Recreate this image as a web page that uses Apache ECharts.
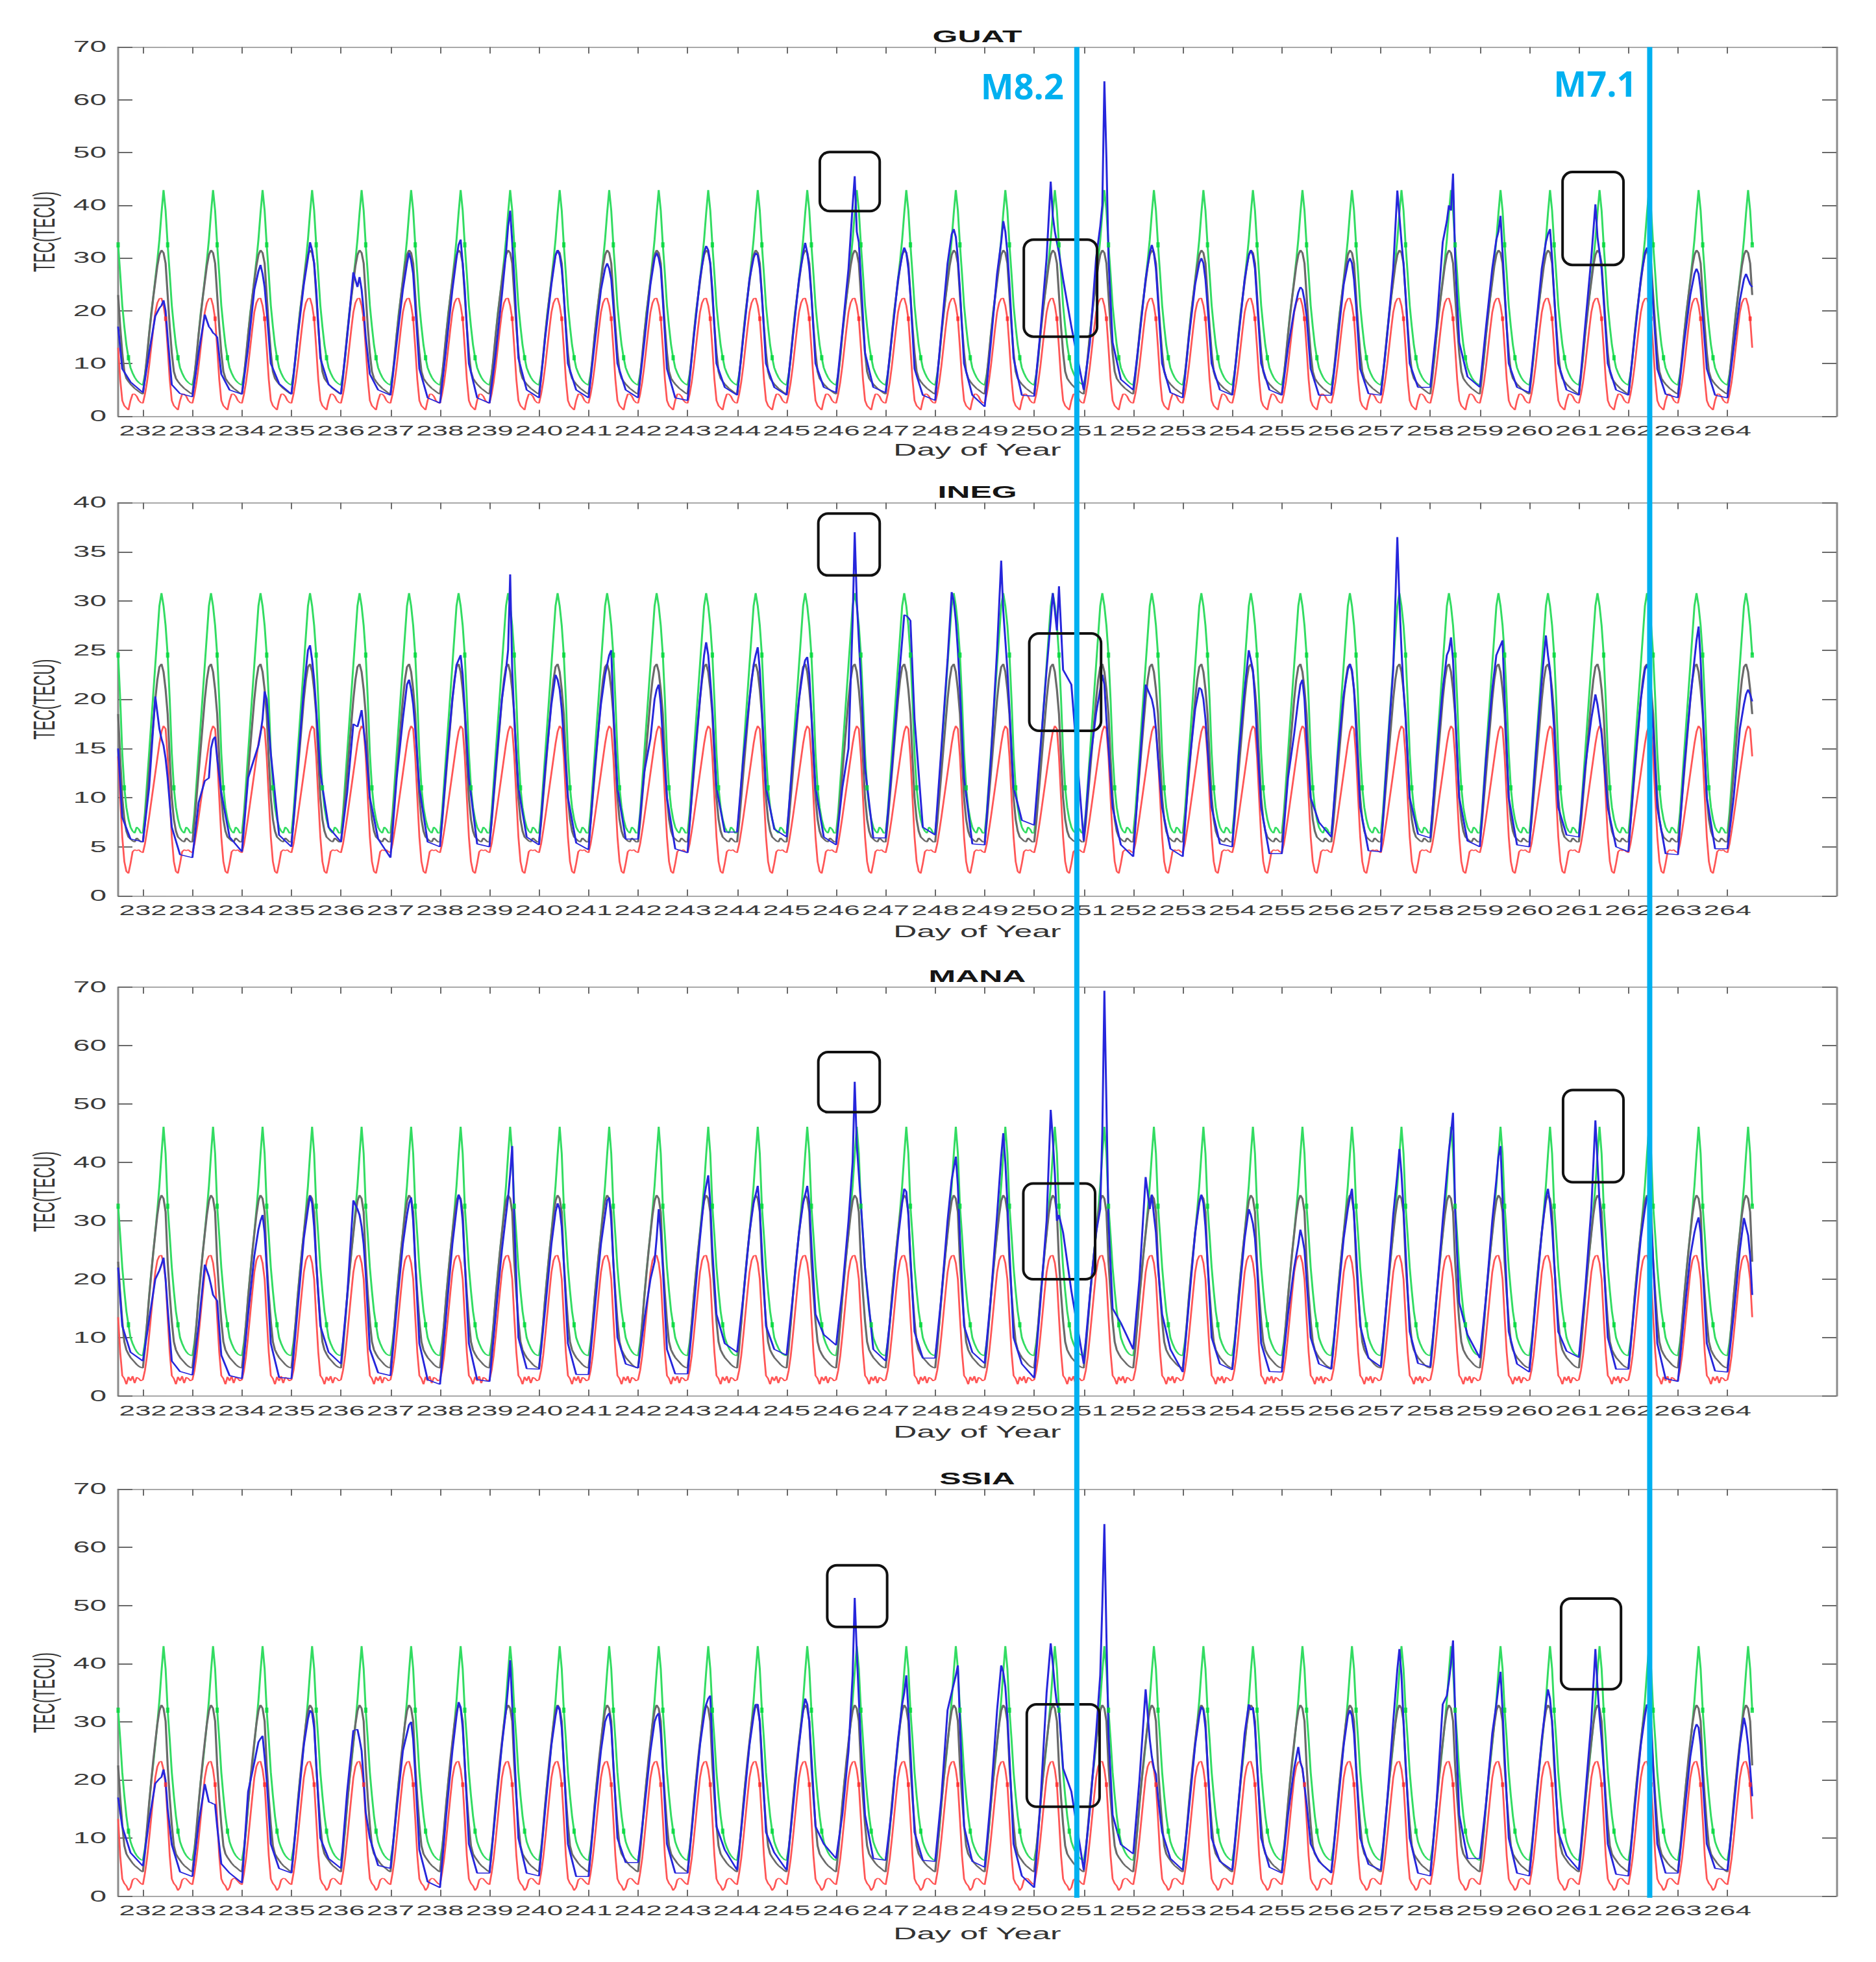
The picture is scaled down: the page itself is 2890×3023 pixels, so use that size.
<!DOCTYPE html>
<html>
<head>
<meta charset="utf-8">
<script src="https://cdn.jsdelivr.net/npm/echarts@6/dist/echarts.min.js"></script>
<style>
html,body{margin:0;padding:0;background:#fff;width:2890px;height:3023px;overflow:hidden}
#main{position:absolute;left:0;top:0;width:1445px;height:3023px;transform:scaleX(2);transform-origin:0 0}
#overlay{position:absolute;left:0;top:0;width:2890px;height:3023px}
</style>
</head>
<body>
<div id="main"></div>
<div id="overlay"></div>
<script>
// ---------------- DATA ----------------
const stations = ['GUAT', 'INEG', 'MANA', 'SSIA'];
const days = [231,232,233,234,235,236,237,238,239,240,241,242,243,244,245,246,247,248,249,250,251,252,253,254,255,256,257,258,259,260,261,262,263,264];
const dayTicks = [232,233,234,235,236,237,238,239,240,241,242,243,244,245,246,247,248,249,250,251,252,253,254,255,256,257,258,259,260,261,262,263,264];
const tStart = 231.5, tEnd = 264.5;
const yMaxes = [70, 40, 70, 70];
const yIntervals = [10, 5, 10, 10];

// hourly daily profiles (24 values, one per hour of the day) of upper bound, median and lower bound
const guatUpper  = [5.9,8.0,11.0,15.5,19.5,22.5,26.0,29.5,33.5,38.5,42.9,39.0,32.5,27.0,21.0,17.0,13.5,11.1,9.2,8.2,7.4,6.8,6.4,6.1];
const guatMedian = [4.2,7.5,11.5,15.5,19.0,22.5,25.5,28.5,30.6,31.5,31.0,29.0,23.0,17.0,12.0,8.5,7.2,6.6,6.1,5.7,5.3,5.0,4.7,4.4];
const guatLower  = [2.5,4.2,6.5,9.5,13.0,16.5,19.7,21.5,22.3,22.4,21.0,18.5,13.0,7.0,3.0,2.0,1.6,1.2,3.0,4.2,4.2,3.8,3.0,2.6];

const inegUpper  = [6.4,8.5,11.5,14.5,17.5,20.5,23.5,26.5,29.5,30.8,29.5,27.5,24.5,20.0,14.5,11.0,9.0,7.8,7.0,6.6,6.4,7.0,6.8,6.4];
const inegMedian = [5.5,7.5,10.0,12.5,15.0,17.5,20.0,22.0,23.3,23.6,22.8,21.0,18.5,14.0,10.0,7.8,6.6,6.0,5.8,5.6,5.5,5.9,5.7,5.5];
const inegLower  = [4.4,5.3,6.6,8.0,9.5,11.0,12.5,14.0,15.5,16.7,17.3,17.0,14.2,10.0,6.0,3.5,2.5,2.3,3.3,4.5,4.7,4.6,4.7,4.5];

const manaUpper  = [6.9,9.2,12.5,17.0,21.0,24.5,28.0,31.8,36.0,41.3,46.1,41.5,32.5,27.5,22.0,18.0,14.5,12.2,10.0,9.0,8.2,7.6,7.2,7.0];
const manaMedian = [4.8,8.2,12.5,16.9,20.7,24.5,27.8,31.0,33.4,34.4,33.8,31.5,23.0,17.5,12.8,9.3,7.9,7.2,6.6,6.2,5.8,5.4,5.1,4.9];
const manaLower  = [2.8,4.4,6.9,10.3,14.0,17.7,21.2,23.2,24.0,24.1,22.8,20.0,13.5,7.5,3.5,3.0,2.0,3.3,2.6,3.4,2.2,3.2,3.0,2.6];

const ssiaUpper  = [6.2,8.3,11.3,15.7,19.7,22.7,26.2,29.7,33.7,38.6,43.0,39.1,32.0,27.0,21.3,17.3,13.8,11.2,9.4,8.4,7.6,7.0,6.6,6.3];
const ssiaMedian = [4.2,7.6,11.8,15.9,19.6,23.3,26.5,29.6,31.9,32.9,32.3,30.1,22.5,17.0,12.3,8.7,7.3,6.7,6.2,5.7,5.3,5.0,4.7,4.4];
const ssiaLower  = [2.0,4.0,6.5,9.8,13.4,17.0,20.4,22.3,23.1,23.2,21.8,19.2,13.3,7.0,3.0,2.2,1.8,1.0,1.5,2.8,3.1,3.0,2.6,2.2];

// observed TEC: one row per day, values at these fractions of the day
const obsFrac = [0, 0.125, 0.25, 0.333, 0.375, 0.417, 0.458, 0.5, 0.583, 0.75];

const guatObs = [
[4,15,25,30,31,30,27,17,9,6.5],
[4.5,12,19,20.5,21,22,20,15,6,4.3],
[3.7,12,19.3,17,16.5,15.8,15.5,15,8,5.0],
[4.2,13,24,27.5,28.7,27,24.5,20,10,6.2],
[4.2,15,25,30,33,31.5,29,24,11,6.0],
[4.2,15,27.3,24.5,26.4,24,20,15,8,5.0],
[4.0,14,24,29,31,29.5,27,21,9,3.5],
[2.5,13,24,30,32.5,33.5,29,24,10,3.5],
[2.5,12,23,31,36,39,33,26,11,5.0],
[3.5,15,25,30.5,31.5,30.5,28,23,10,5.0],
[3.5,14,24,28,29,28,26,21,10,5.0],
[3.5,14,25,30,31,30,28,22,9,3.5],
[3.0,15,26,31,32.3,31.5,29,24,10,5.5],
[4.0,15,26,30,31,30.5,28,23,10,5.5],
[4.0,15,26,31,32.9,31,28,23,10,5.5],
[4.5,16,28,40,45.5,35,33,26,12,5.5],
[4.5,15,26,30.5,32,31,28,23,9,4.0],
[3.0,16,29,34.5,35.5,34,30,24,10,4.0],
[1.8,14,27,33,37,35,31,25,11,4.0],
[3.8,16,30,44.5,38,35,33,31,26,17],
[5,14,30,36,40,63.5,49,30,14,7],
[5,15,26,31,32.5,31,28,22,10,4.5],
[3.5,15,25,29,30,29,26,21,10,5.0],
[4,15,26,30.5,31.5,30.5,28,22,10,5.0],
[4,13,20,23.5,24.5,24,22,19,9,4.0],
[4.0,14,25,29,30,29,26,21,9,4.3],
[4.0,15,28,42.8,38,33,29,23,10,5.5],
[5.5,17,33,37,40,39,46,30,14,7.5],
[5.5,17,28,33.5,35,38,31,24,10,5.5],
[4.5,16,28,33,34.5,35.5,30,23,10,5.0],
[4.0,17,30,40.2,34,31,28,22,10,5.0],
[4.0,15,26,31,32,30,27,21,9,4.2],
[3.5,14,23,27,28,27,24,19,9,4.0],
[3.5,13,22,26,27,26,25,24.5,null,null]
];

const inegObs = [
[5,12,18,22,23,22,19,15,8,5.8],
[5.5,11,20.3,17,16,15.3,14,12,7,4.2],
[3.9,9.5,11.7,12,15,15.9,16.2,14,10.5,6],
[4.5,12,14,15.3,16.5,18,20.8,20,14.5,6.2],
[5.0,13,21,25,25.5,24,22,19,12.5,7],
[5.5,10.5,17.5,17.2,18,18.9,17,15.2,10,5.8],
[3.9,12,18,21.5,22,21,19.5,17,11,5.5],
[5.0,13,20,23.5,24,24.5,22.5,19,12,5.3],
[5.0,13,20,23,25,32.7,23,18,11,6.0],
[5.2,13,19.5,22.5,22,21,19,16,10,5.4],
[4.7,13,19.5,22.5,23.5,24.5,25,19,11,5.8],
[5.8,12.6,16,20,21,21.5,19.5,16,10,4.8],
[4.4,13,20,24.5,25.8,24.5,22,19,11,6.5],
[6.5,14,20,23.5,24.5,25.3,23,19,11,6.8],
[6.0,14,20,23,24,24.3,22.5,18.5,11,6.0],
[5.2,11,15,28,37,30,26,22,13,5.9],
[5.9,13,21,26,28.6,28.5,28.3,28,18,7.0],
[6.2,15,24,30.9,30,28,25,21,12,5.3],
[5.2,14,25,34.1,29,26,23,19,11,7.7],
[7.2,15,23,28,30.8,29,27,31.5,23,21.5],
[5.6,13.5,18.6,21,22.5,21.5,18,15,9,5.2],
[4.0,13,21.5,20.5,20,19,17,14,9,4.8],
[4.0,13,19,21.2,21,20,18,15,9,5.3],
[5.0,14,21,25,24,23,20,16,9,4.3],
[4.3,12,16.5,20,21.5,22,20,16,10,7.5],
[6.0,14,20.5,23,23.6,23,21,17,9,4.6],
[4.5,14,23,36.5,30,25,21,18,10,6.3],
[5.9,14,21,24.5,25,26.3,24,19,10,5.6],
[5.0,14,21,24.5,25,25.5,26,20,10,5.2],
[5.0,14,22,26.5,24.5,23,20,17,9,6.2],
[6.0,13,18,20.5,19.5,18,16.5,14,9,5.0],
[4.5,13,20,23,23.5,23,20,17,9,4.3],
[4.2,13,20,24,26,27.4,24,19,10,4.8],
[4.8,10,17,19.5,20.5,21,20.5,19.8,null,null]
];

const manaObs = [
[5,15,25,30,32,31,28,22,12,7.5],
[6.0,13,20,21.5,22.5,23.7,20,15,6,4.2],
[3.6,12,22.5,20.5,19,17.3,16.8,16.3,7,3.5],
[3.0,14,24,28.5,30,31,28,22,9,3.2],
[3.0,15,27,32,34.3,33,29,23,12,7.5],
[5.5,17,33.5,32,31,29,26,21,8,4.0],
[3.5,15,26,31,33,34,30,23,9,2.8],
[2.0,14,26,32,34.5,33.5,30,23,9,2.8],
[2.5,14,25,31,34,38,42.8,30,10,4.7],
[4.6,15,26,31.5,33,32,29,23,9,3.7],
[3.7,15,26,31,33.5,34,30,23,10,5.5],
[4.8,13,20,23,27,32,28,22,8,3.8],
[3.8,15,27,34,36,37.8,33,25,14,9],
[7.5,17,28,33,34.5,36,32,25,12,8],
[7,17,28,33,34.5,36,33,26,14,10.5],
[8.7,18,30,40,53.8,43,38,33,22,8],
[6.0,16,27,33,35.5,35,31,24,11,6.5],
[6.5,17,30,37,39,41,36,27,12,7.5],
[5.6,17,31,41,45,40,33,25,10,5.5],
[3.1,16,30,49,44,38,30,31,28,18],
[5.5,17.3,28,32,45,69.4,50,30,15,12.5],
[8,20,37.5,32,34.5,31,28,22,14,8],
[4.1,16,28,33,34.5,33,29,23,10,5.5],
[4.5,16,27,32,31,29.5,27,22,9,4.2],
[4.1,14,22,26,28.5,27,25,20,10,5.5],
[4.6,16,27,32,34,35.5,31,25,12,6.5],
[5.0,17,31,38,42.3,38,32,25,11,5.6],
[5.0,17,30,38,42,45,48.5,32,16,10.5],
[6.5,17,30,37,41,42.8,34,26,11,5.5],
[4.1,16,28,34,35.5,33,29,23,11,7.7],
[6.6,18,32,47.2,40,33,28,23,10,4.6],
[4.6,16,27,32,34,34.5,30,23,9,3.0],
[2.5,14,24,28,29.5,30.6,28,22,9,4.3],
[4.1,14,25,30.5,29,27.5,24,17.3,null,null]
];

const ssiaObs = [
[5,15,25,30,32,31,28,17,12,7.5],
[5.2,13,19.4,20.2,20.5,21.8,19.9,15,8.9,4.2],
[3.4,12.5,19.3,16.2,16.1,15.9,15.8,12,5.6,4.0],
[2.3,18,23,26.5,27.1,27.6,24,20,9,4.8],
[4,15,26,30.5,32,31.5,29,23,10,6.5],
[4.8,18,28.5,28.7,27,25,20,14.4,10,5.3],
[4.8,15,25,28,29.5,30,27,21,8,2.5],
[1.5,14,25,31,33.4,32.5,29,23,9,4.0],
[4,15,26,32,36,40.6,33,25,10,4.0],
[3.5,15,26,31,32.8,32,29,23,9,3.4],
[3.4,15,25,30,31,31.5,29,23,10,5.8],
[5.8,15,25,30,31,31.5,28,22,9,4.0],
[4.0,15,26,31,33,34,34.5,26,12,8],
[4.5,15,26,31,33,33,30,24,11,7.5],
[4.5,15,26,32,34,33,30,24,12,9],
[6.5,14,25,38,51.3,42,34,26,14,6.5],
[6.2,15,27,33,35,38,32,25,11,6.2],
[6,17,32,35,36.5,38,39.7,30,12,6],
[5,17,32,39.7,38.5,36,31,24,9,3.5],
[1.5,16,35,43.5,40,36,33,32,22,18],
[4.5,15,28,38,50,64,45,28,14,8.9],
[7.3,20,35.6,27,24,22,21,17,11,6.5],
[4.5,15,26,31,32.6,32,29,23,10,6],
[4.5,16,28,33,32,32.5,29,23,10,5.0],
[4,14,22,25.7,23,22,19,16,9,6],
[4.0,15,26,31,32,31,28,22,10,5.5],
[4.5,16,30,39,42.5,38,30,23,10,4.0],
[3.5,16,33,34.5,37,40,44,32,14,6.5],
[6.5,16,28,33,36,38.6,32,24,10,4.0],
[3.5,15,27,33,35.6,34,30,24,11,7.0],
[4.5,17,30,42.5,36,31,27,22,9,3.8],
[3.5,15,26,31,33,32,29,22,9,4.0],
[4.0,14,24,28.5,29.6,29,26,20,9,4.8],
[4.5,15,26,30.7,29,26,22,17.2,null,null]
];

// hours of the day where the bound curves show thick dot markers
const upperDotHours = [[12,17],[12,15],[12,17],[12,17]];
const lowerDotHours = [[11],[],[],[11]];

// annotations: boxes [dayFrom, tecTop, dayTo, tecBottom]
const guatBoxes = [[245.67,50.1,246.88,38.9],[249.79,33.5,251.27,15.1],[260.67,46.3,261.90,28.7]];
const inegBoxes = [[245.64,38.9,246.88,32.6],[249.90,26.7,251.35,16.8]];
const manaBoxes = [[245.64,58.9,246.88,48.6],[249.78,36.4,251.23,20.0],[260.68,52.4,261.90,36.6]];
const ssiaBoxes = [[245.82,56.9,247.03,46.3],[249.85,33.0,251.32,15.4],[260.64,51.2,261.85,35.6]];
// earthquakes: day of year and label anchor (TEC value in GUAT panel)
const quakeNames = ['M8.2', 'M7.1'];
const quakeDays = [250.86, 262.43];
const quakeLabelTec = [62.7, 63.2];

// ---------------- LAYOUT / STYLE ----------------
const FONT = "'Liberation Sans', Arial, Helvetica, sans-serif";
const PANEL_TOP = [72.5, 774.5, 1521, 2294.4];
const PANEL_H = [568.9, 606, 630, 627.4];
const PLOT_L = 182, PLOT_R = 2829, STRETCH = 2;
const NAME_GAP_X = [39, 42.5, 42.5, 45];
const XMIN = 231.5, XMAX = 266.2;
const C_UP = '#33dc62', C_MED = '#6a6a6a', C_LOW = '#ff5656', C_OBS = '#2626dc';

const uppers = [guatUpper, inegUpper, manaUpper, ssiaUpper];
const medians = [guatMedian, inegMedian, manaMedian, ssiaMedian];
const lowers = [guatLower, inegLower, manaLower, ssiaLower];
const observed = [guatObs, inegObs, manaObs, ssiaObs];
const boxes = [guatBoxes, inegBoxes, manaBoxes, ssiaBoxes];

function inRange(t) { return t >= tStart - 1e-9 && t <= tEnd + 1e-9; }
function tile(profile) {
  const out = [];
  days.forEach(d => profile.forEach((v, k) => {
    const t = d + k / profile.length;
    if (inRange(t)) out.push([t, v]);
  }));
  return out;
}
function dots(profile, hours) {
  const out = [];
  days.forEach(d => hours.forEach(k => {
    const t = d + k / profile.length;
    if (inRange(t)) out.push([t, profile[k]]);
  }));
  return out;
}
function obsSeries(rows) {
  const out = [];
  rows.forEach((row, di) => row.forEach((v, i) => {
    if (v == null) return;
    const t = days[di] + obsFrac[i];
    if (inRange(t)) out.push([t, v]);
  }));
  return out;
}

// ---------------- MAIN CHART (drawn at half width, stretched x2 like the source figure) ----------------
const grids = [], xAxes = [], yAxes = [], series = [], titles = [];
stations.forEach((s, i) => {
  grids.push({ left: PLOT_L / STRETCH, width: (PLOT_R - PLOT_L) / STRETCH, top: PANEL_TOP[i], height: PANEL_H[i], containLabel: false, outerBoundsMode: 'none' });
  ['bottom', 'top'].forEach(pos => {
    xAxes.push({
      type: 'value', gridIndex: i, position: pos, min: XMIN, max: XMAX,
      axisLine: { show: true, onZero: false, lineStyle: { color: '#8c8c8c', width: 1.5 } },
      axisTick: { show: true, inside: true, length: 10, customValues: dayTicks, lineStyle: { color: '#6a6a6a', width: 1 } },
      axisLabel: pos === 'bottom'
        ? { show: true, customValues: dayTicks, fontSize: 22, color: '#3a3a3a', margin: 11, fontFamily: FONT,
            hideOverlap: false, showMinLabel: true, showMaxLabel: true }
        : { show: false },
      splitLine: { show: false },
      name: pos === 'bottom' ? 'Day of Year' : '',
      nameLocation: 'middle', nameGap: NAME_GAP_X[i],
      nameTextStyle: { fontSize: 25, color: '#333', fontFamily: FONT }
    });
  });
  ['left', 'right'].forEach(pos => {
    yAxes.push({
      type: 'value', gridIndex: i, position: pos, min: 0, max: yMaxes[i], interval: yIntervals[i],
      axisLine: { show: true, onZero: false, lineStyle: { color: '#8c8c8c', width: 1.5 } },
      axisTick: { show: true, inside: true, length: 11, lineStyle: { color: '#6a6a6a', width: 2 } },
      axisLabel: pos === 'left' ? { show: true, fontSize: 23, color: '#3a3a3a', margin: 9, fontFamily: FONT, showMinLabel: true, showMaxLabel: true } : { show: false },
      splitLine: { show: false },
      name: pos === 'left' ? 'TEC(TECU)' : '',
      nameLocation: 'middle', nameRotate: 90, nameGap: 42,
      nameTextStyle: { fontSize: 23, color: '#333', fontFamily: FONT }
    });
  });
  titles.push({
    text: s, left: (PLOT_L + PLOT_R) / 2 / STRETCH, top: PANEL_TOP[i] - 29,
    textAlign: 'center', textVerticalAlign: 'top', padding: 0,
    textStyle: { fontSize: 25, fontWeight: 'bold', color: '#151515', fontFamily: FONT }
  });
  const ax = { xAxisIndex: 2 * i, yAxisIndex: 2 * i };
  const lineBase = { type: 'line', showSymbol: false, symbol: 'none', silent: true, animation: false };
  series.push(Object.assign({}, lineBase, ax, { name: s + ' upper', data: tile(uppers[i]), lineStyle: { color: C_UP, width: 1.5 }, z: 2 }));
  series.push(Object.assign({}, lineBase, ax, { name: s + ' lower', data: tile(lowers[i]), lineStyle: { color: C_LOW, width: 1.4 }, z: 2 }));
  series.push(Object.assign({}, lineBase, ax, { name: s + ' median', data: tile(medians[i]), lineStyle: { color: C_MED, width: 1.6 }, z: 3 }));
  series.push(Object.assign({}, lineBase, ax, { name: s + ' observed', data: obsSeries(observed[i]), lineStyle: { color: C_OBS, width: 1.5 }, z: 4 }));
  series.push(Object.assign({ type: 'scatter', silent: true, animation: false }, ax, {
    data: dots(uppers[i], upperDotHours[i]), symbol: 'rect', symbolSize: [2.6, 8], itemStyle: { color: '#00d83a' }, z: 5 }));
  if (lowerDotHours[i].length) {
    series.push(Object.assign({ type: 'scatter', silent: true, animation: false }, ax, {
      data: dots(lowers[i], lowerDotHours[i]), symbol: 'rect', symbolSize: [2.4, 7], itemStyle: { color: '#ff2a2a' }, z: 5 }));
  }
});

const main = echarts.init(document.getElementById('main'), null, { renderer: 'svg' });
main.setOption({
  backgroundColor: '#ffffff', animation: false,
  title: titles, grid: grids, xAxis: xAxes, yAxis: yAxes, series: series
});

// ---------------- OVERLAY (annotations, unstretched) ----------------
const oGrids = [], oX = [], oY = [], oSeries = [];
stations.forEach((s, i) => {
  oGrids.push({ left: PLOT_L, width: PLOT_R - PLOT_L, top: PANEL_TOP[i], height: PANEL_H[i], containLabel: false, outerBoundsMode: 'none' });
  oX.push({ type: 'value', gridIndex: i, min: XMIN, max: XMAX, show: false });
  oY.push({ type: 'value', gridIndex: i, min: 0, max: yMaxes[i], show: false });
  oSeries.push({
    type: 'custom', xAxisIndex: i, yAxisIndex: i, data: boxes[i], clip: false, silent: true, animation: false, z: 10,
    renderItem: function (params, api) {
      const a = api.coord([api.value(0), api.value(1)]);
      const b = api.coord([api.value(2), api.value(3)]);
      return {
        type: 'rect',
        shape: { x: Math.min(a[0], b[0]), y: Math.min(a[1], b[1]), width: Math.abs(b[0] - a[0]), height: Math.abs(b[1] - a[1]), r: 15 },
        style: { fill: 'none', stroke: '#111', lineWidth: 4 }
      };
    }
  });
});
// tall grid spanning all panels for the earthquake lines
oGrids.push({ left: PLOT_L, width: PLOT_R - PLOT_L, top: PANEL_TOP[0], height: 2924 - PANEL_TOP[0], containLabel: false, outerBoundsMode: 'none' });
oX.push({ type: 'value', gridIndex: 4, min: XMIN, max: XMAX, show: false });
oY.push({ type: 'value', gridIndex: 4, min: 0, max: 1, show: false });
oSeries.push({
  type: 'custom', xAxisIndex: 4, yAxisIndex: 4, data: quakeDays.map(d => [d, 0]), clip: false, silent: true, animation: false, z: 11,
  renderItem: function (params, api) {
    const p0 = api.coord([api.value(0), 0]);
    const p1 = api.coord([api.value(0), 1]);
    return { type: 'line', shape: { x1: p0[0], y1: p0[1], x2: p1[0], y2: p1[1] }, style: { stroke: '#00B0F0', lineWidth: 8 } };
  }
});
oSeries.push({
  type: 'custom', xAxisIndex: 0, yAxisIndex: 0, data: quakeDays.map((d, k) => [d, quakeLabelTec[k]]), clip: false, silent: true, animation: false, z: 12,
  renderItem: function (params, api) {
    const p = api.coord([api.value(0), api.value(1)]);
    return {
      type: 'text', x: p[0] - 20, y: p[1],
      style: {
        text: quakeNames[params.dataIndex], align: 'right', verticalAlign: 'middle',
        textAlign: 'right', textVerticalAlign: 'middle',
        fontSize: 54, fontWeight: 'bold', fontFamily: "'Open Sans', 'Lato', sans-serif", fill: '#00B0F0'
      }
    };
  }
});
const overlay = echarts.init(document.getElementById('overlay'), null, { renderer: 'svg' });
overlay.setOption({
  backgroundColor: 'transparent', animation: false,
  grid: oGrids, xAxis: oX, yAxis: oY, series: oSeries
});
</script>
</body>
</html>
